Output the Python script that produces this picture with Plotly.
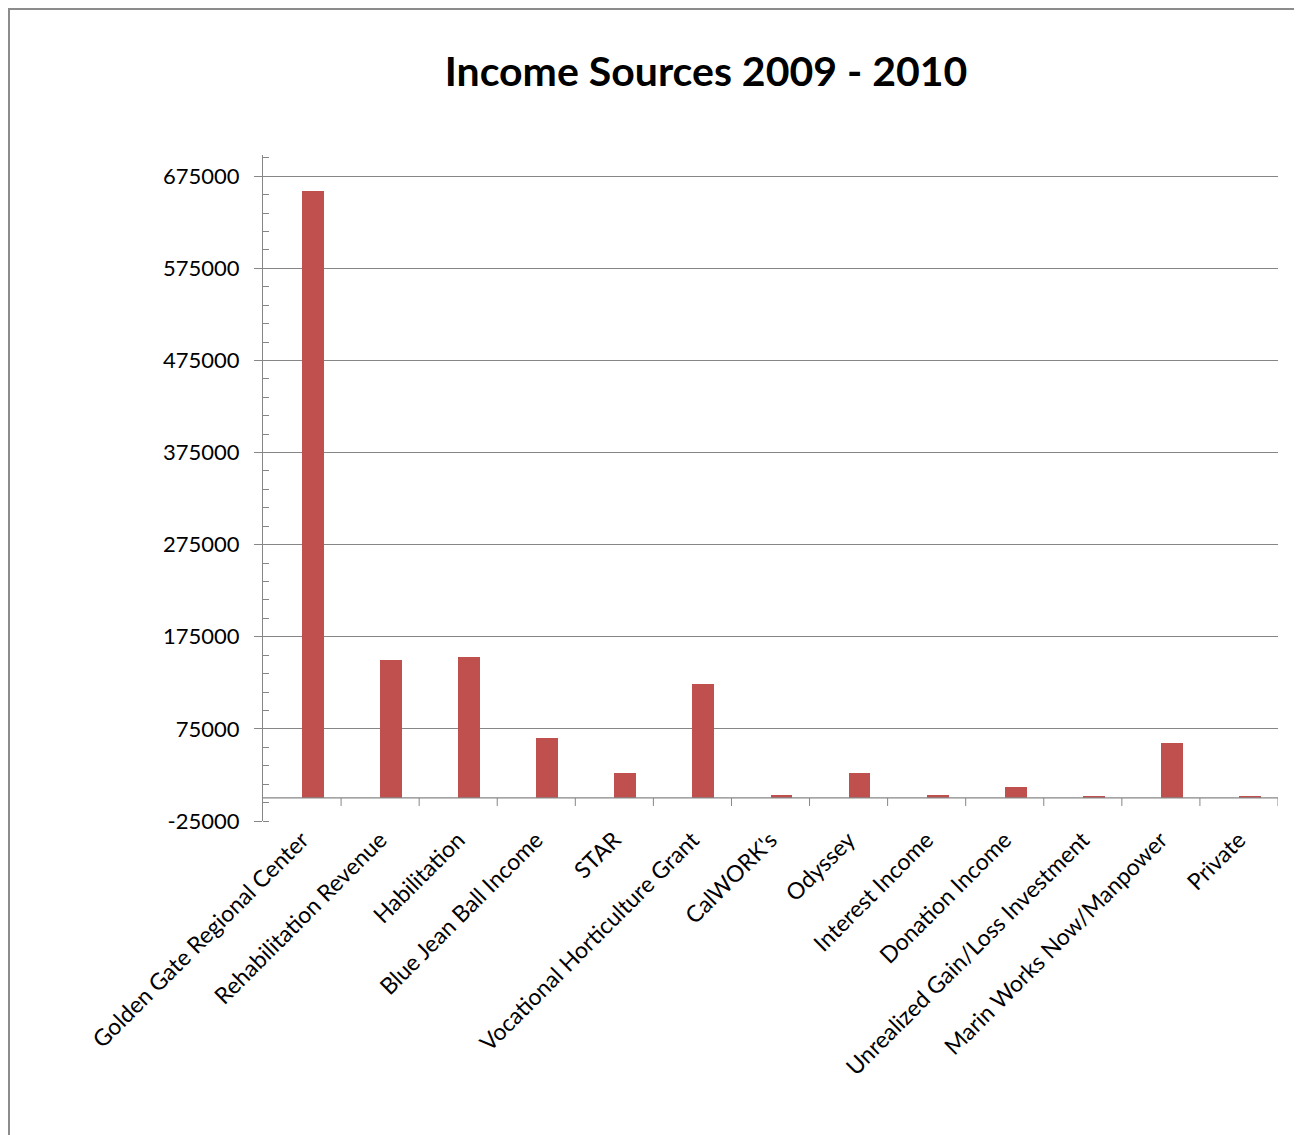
import plotly.graph_objects as go

categories = [
    "Golden Gate Regional Center", "Rehabilitation Revenue", "Habilitation",
    "Blue Jean Ball Income", "STAR", "Vocational Horticulture Grant",
    "CalWORK's", "Odyssey", "Interest Income", "Donation Income",
    "Unrealized Gain/Loss Investment", "Marin Works Now/Manpower", "Private",
]
values = [659000, 150000, 153000, 65000, 27000, 123500, 3200, 27000, 3000, 12000, 2200, 59500, 1500]
y_ticks = [-25000, 75000, 175000, 275000, 375000, 475000, 575000, 675000]

# page body has an 8px margin, so figure coordinates are shifted by 8px
OFF = 8
W, H = 1302 - OFF, 1135 - OFF
L, T = 263 - OFF, 155 - OFF
PLOT_W, PLOT_H = 1015, 666
R = W - L - PLOT_W
B = H - T - PLOT_H
Y_MIN, Y_MAX = -25000, 698000

bar_color = "#C0504D"
grid_color = "#868686"
font_family = "Lato, 'Open Sans', sans-serif"

x_idx = list(range(len(categories)))

fig = go.Figure()
fig.add_trace(go.Bar(
    x=x_idx, y=values, marker=dict(color=bar_color, line=dict(width=0)),
    width=0.28, offset=0.0, showlegend=False,
))

shapes = []
# category tick marks hanging from zero line
for i in range(len(categories)):
    shapes.append(dict(type="line", xref="x", yref="y", x0=i + 0.5, x1=i + 0.5,
                       ysizemode="pixel", yanchor=0, y0=0, y1=-8,
                       line=dict(color=grid_color, width=1)))
# zero line
shapes.append(dict(type="line", xref="paper", yref="y", x0=0, x1=1, y0=0, y1=0,
                   line=dict(color=grid_color, width=1.3)))
# outer chart border
shapes.append(dict(type="rect", xref="paper", yref="paper",
                   x0=(1 - L) / PLOT_W, x1=(W + 20 - L) / PLOT_W,
                   y0=-(H + 20 - T - PLOT_H) / PLOT_H, y1=1 + (T - 1) / PLOT_H,
                   line=dict(color="#8c8c8c", width=2), layer="below"))

fig.update_layout(
    width=W, height=H,
    margin=dict(l=L, r=R, t=T, b=B),
    paper_bgcolor="white", plot_bgcolor="white",
    font=dict(family=font_family, color="black"),
    title=dict(text="<b>Income Sources 2009 - 2010</b>", xref="container", yref="container",
               x=(706 - OFF) / W, y=1 - (72 - OFF) / H, xanchor="center", yanchor="middle",
               font=dict(size=41, family=font_family, color="black")),
    xaxis=dict(
        tickmode="array", tickvals=x_idx, ticktext=categories,
        tickangle=-45, tickfont=dict(size=23, family=font_family),
        range=[-0.5, len(categories) - 0.5],
        showgrid=False, zeroline=False, showline=False, ticks="",
    ),
    yaxis=dict(
        range=[Y_MIN, Y_MAX],
        tickmode="array", tickvals=y_ticks, ticktext=[str(v) for v in y_ticks],
        tickfont=dict(size=22, family=font_family), ticklabelstandoff=10,
        showgrid=True, gridcolor=grid_color, gridwidth=1.3,
        zeroline=False, showline=True, linecolor=grid_color, linewidth=1.3,
        ticks="outside", ticklen=8, tickcolor=grid_color, tickwidth=1.3,
        minor=dict(tickmode="linear", tick0=-25000, dtick=20000, ticks="inside",
                   ticklen=6, tickcolor=grid_color, tickwidth=1, showgrid=False),
    ),
    shapes=shapes,
    bargap=0,
)

fig.write_html("out.html")
